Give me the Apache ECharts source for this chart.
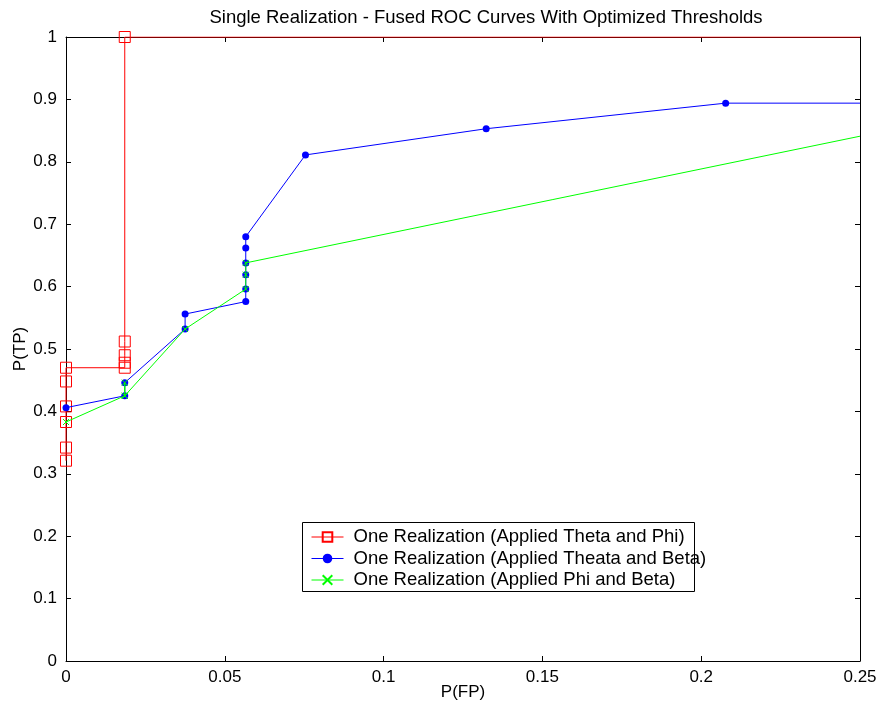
<!DOCTYPE html>
<html>
<head>
<meta charset="utf-8">
<script src="https://cdn.jsdelivr.net/npm/echarts@6/dist/echarts.min.js"></script>
<style>
html,body{margin:0;padding:0;background:#fff;}
#chart{width:881px;height:710px;}
</style>
</head>
<body>
<div id="chart"></div>
<script>
var titleText = 'Single Realization - Fused ROC Curves With Optimized Thresholds';
var xName = 'P(FP)';
var yName = 'P(TP)';
var seriesNames = [
  'One Realization (Applied Theta and Phi)',
  'One Realization (Applied Theata and Beta)',
  'One Realization (Applied Phi and Beta)'
];
// Red: Theta and Phi
var redX = [0, 0, 0, 0, 0, 0, 0.0185, 0.0185, 0.0185, 0.0185, 0.0185, 0.25];
var redY = [0.321, 0.342, 0.383, 0.408, 0.448, 0.470, 0.470, 0.478, 0.490, 0.512, 1.0, 1.0];
// Blue: Theata and Beta
var blueX = [0, 0.0185, 0.0185, 0.0375, 0.0375, 0.0566, 0.0566, 0.0566, 0.0566, 0.0566, 0.0566, 0.0754, 0.1323, 0.2077, 0.25];
var blueY = [0.406, 0.425, 0.446, 0.532, 0.556, 0.576, 0.596, 0.619, 0.638, 0.662, 0.680, 0.811, 0.853, 0.894, 0.894];
// Green: Phi and Beta
var greenX = [0, 0.0185, 0.0185, 0.0185, 0.0375, 0.0566, 0.0566, 0.0566, 0.25];
var greenY = [0.383, 0.425, 0.446, 0.425, 0.532, 0.596, 0.619, 0.638, 0.841];

function pairs(xs, ys, lastNoSymbol) {
  return xs.map(function (x, i) {
    var d = { value: [x, ys[i]] };
    if (lastNoSymbol && i === xs.length - 1) d.symbol = 'none';
    return d;
  });
}

var FONT = 'Liberation Sans, Arial, sans-serif';
var chart = echarts.init(document.getElementById('chart'), null, { renderer: 'canvas' });
var axisCommon = {
  axisLine: { show: true, onZero: false, lineStyle: { color: '#000', width: 1 } },
  axisTick: { show: true, inside: true, length: 5, lineStyle: { color: '#000' } },
  splitLine: { show: false }
};
chart.setOption({
  backgroundColor: '#fff',
  animation: false,
  title: {
    text: titleText, left: 481, top: 3, textAlign: 'center',
    textStyle: { fontFamily: FONT, fontSize: 18.5, fontWeight: 'normal', color: '#000' }
  },
  grid: { left: 66, right: 21, top: 37, bottom: 49, containLabel: false, outerBoundsMode: 'none' },
  legend: {
    orient: 'vertical', left: 311, top: 527,
    itemWidth: 32, itemHeight: 12, itemGap: 1.5,
    padding: 0,
    lineStyle: { width: 1 },
    textStyle: { fontFamily: FONT, fontSize: 18.5, color: '#000', lineHeight: 20, padding: [0, 0, 0, 5] },
    data: seriesNames
  },
  graphic: [{
    type: 'rect', z: 3, left: 302, top: 522,
    shape: { width: 392, height: 69 },
    style: { fill: '#fff', stroke: '#000', lineWidth: 1 }
  }],
  xAxis: [
    Object.assign({
      type: 'value', min: 0, max: 0.25, interval: 0.05, position: 'bottom',
      name: xName, nameLocation: 'middle', nameGap: 23, nameMoveOverlap: false,
      nameTextStyle: { fontFamily: FONT, fontSize: 17, color: '#000' },
      axisLabel: { fontFamily: FONT, fontSize: 17, color: '#000', margin: 8 }
    }, axisCommon),
    Object.assign({
      type: 'value', min: 0, max: 0.25, interval: 0.05, position: 'top',
      axisLabel: { show: false }
    }, axisCommon)
  ],
  yAxis: [
    Object.assign({
      type: 'value', min: 0, max: 1, interval: 0.1, position: 'left',
      name: yName, nameLocation: 'middle', nameGap: 37, nameMoveOverlap: false,
      nameTextStyle: { fontFamily: FONT, fontSize: 17, color: '#000' },
      axisLabel: { fontFamily: FONT, fontSize: 17, color: '#000', margin: 9 }
    }, axisCommon),
    Object.assign({
      type: 'value', min: 0, max: 1, interval: 0.1, position: 'right',
      axisLabel: { show: false }
    }, axisCommon)
  ],
  series: [
    {
      name: seriesNames[0], type: 'line', z: 5,
      data: pairs(redX, redY, true),
      symbol: 'rect', symbolSize: 11,
      lineStyle: { color: '#ff0000', width: 1 },
      itemStyle: { color: 'rgba(255,0,0,0)', borderColor: '#ff0000', borderWidth: 1 }
    },
    {
      name: seriesNames[1], type: 'line', z: 6,
      data: pairs(blueX, blueY, true),
      symbol: 'circle', symbolSize: 7,
      lineStyle: { color: '#0000ff', width: 1 },
      itemStyle: { color: '#0000ff', borderColor: '#0000ff', borderWidth: 0 }
    },
    {
      name: seriesNames[2], type: 'line', z: 7,
      data: pairs(greenX, greenY, true),
      symbol: 'path://M0,0L10,10M10,0L0,10', symbolSize: 6,
      lineStyle: { color: '#00ff00', width: 1 },
      itemStyle: { color: '#00ff00', borderColor: '#00ff00', borderWidth: 1 }
    }
  ]
});
</script>
</body>
</html>
